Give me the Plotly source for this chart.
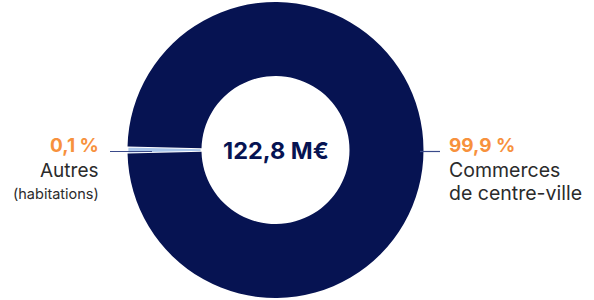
import plotly.graph_objects as go

categories = ["Autres (habitations)", "Commerces de centre-ville"]
shares_pct = [0.1, 99.9]
share_labels = ["0,1 %", "99,9 %"]
# wedge sizes as drawn in the picture (small slice enlarged for visibility)
drawn_sizes = [0.75, 99.25]
total_label = "122,8 M€"

NAVY = "#061352"
LIGHT = "#a9c6ea"
ORANGE = "#f7913d"
GREY = "#2b2b2b"
W, H = 594, 300

cx, cy, r = 275.5, 150, 148
fig = go.Figure()
fig.add_trace(go.Pie(
    labels=categories, values=drawn_sizes, hole=0.5, sort=False,
    direction="clockwise", rotation=270 - drawn_sizes[0] / 100 * 360 / 2,
    marker=dict(colors=[LIGHT, NAVY], line=dict(color="white", width=[1.8, 0])),
    textinfo="none", hoverinfo="label", showlegend=False,
    domain=dict(x=[(cx - r) / W, (cx + r) / W], y=[(H - cy - r) / H, (H - cy + r) / H]),
))

font = "Inter, Roboto, sans-serif"
ann = []
def A(x, y, text, size, color, anchor, bold=False):
    t = f"<b>{text}</b>" if bold else text
    ann.append(dict(x=x / W, y=1 - y / H, xref="paper", yref="paper", text=t,
                    showarrow=False, xanchor=anchor, yanchor="middle",
                    font=dict(family=font, size=size, color=color)))

A(101, 145, share_labels[0], 19, ORANGE, "right", True)
A(101, 170, "Autres", 19, GREY, "right")
A(101, 194, "(habitations)", 14.5, GREY, "right")
A(447, 145, share_labels[1], 19, ORANGE, "left", True)
A(447, 170, "Commerces", 19.5, GREY, "left")
A(447, 193, "de centre-ville", 19.5, GREY, "left")
A(cx, 150, total_label, 23.5, NAVY, "center", True)

shapes = [
    dict(type="line", xref="paper", yref="paper", x0=110 / W, x1=152 / W,
         y0=1 - 151.5 / H, y1=1 - 151.5 / H, line=dict(color="#3a4a8a", width=1.2)),
    dict(type="line", xref="paper", yref="paper", x0=420 / W, x1=440 / W,
         y0=1 - 151.5 / H, y1=1 - 151.5 / H, line=dict(color="#3a4a8a", width=1.2)),
]

fig.update_layout(width=W, height=H, margin=dict(l=0, r=0, t=0, b=0),
                  paper_bgcolor="white", plot_bgcolor="white",
                  annotations=ann, shapes=shapes)
fig.write_html("out.html", config={"displayModeBar": False},
               post_script="document.body.style.margin='0';")
